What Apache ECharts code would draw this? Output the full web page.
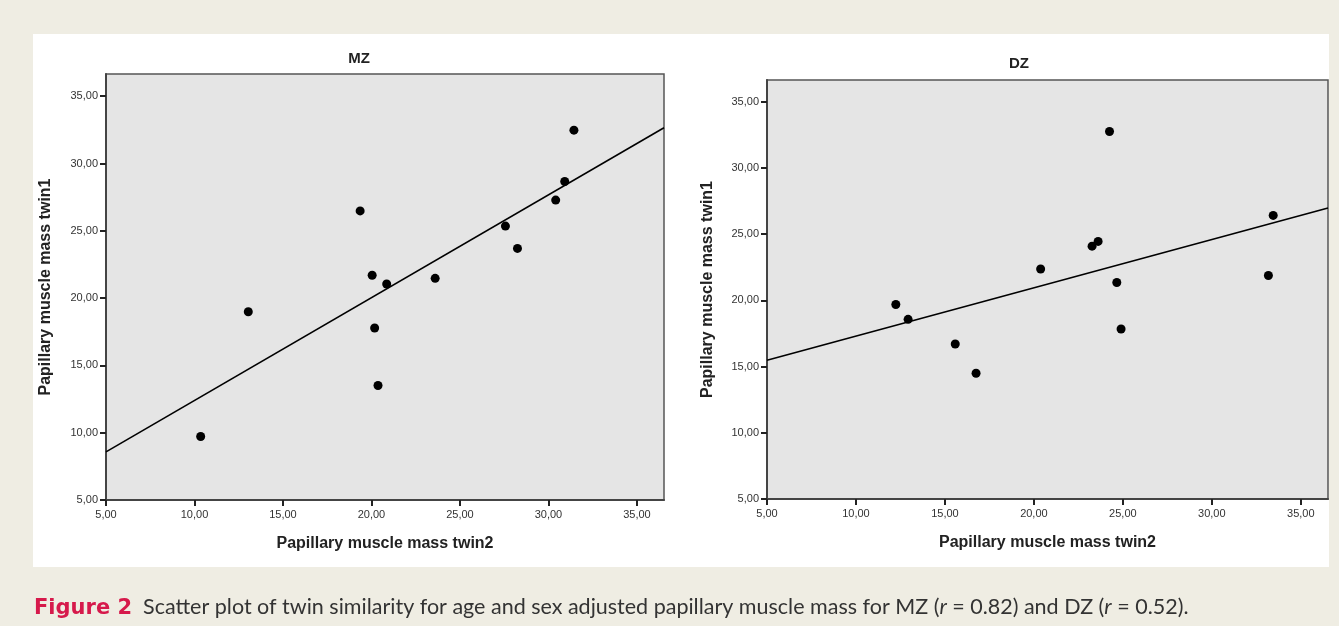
<!DOCTYPE html>
<html>
<head>
<meta charset="utf-8">
<script src="https://cdn.jsdelivr.net/npm/echarts@6/dist/echarts.min.js"></script>
<style>
  html, body { margin: 0; padding: 0; background: #efede3; }
  #chart { width: 1339px; height: 626px; }
</style>
</head>
<body>
<div id="chart"></div>
<script>
// MZ pairs (twin2 on x, twin1 on y)
const mzTwin2 = [10.35, 13.04, 19.36, 20.04, 20.86, 20.18, 20.37, 23.6, 27.57, 28.25, 30.41, 30.92, 31.44];
const mzTwin1 = [9.72, 18.99, 26.48, 21.70, 21.05, 17.78, 13.51, 21.47, 25.35, 23.69, 27.28, 28.66, 32.48];

// DZ pairs
const dzTwin2 = [12.24, 12.93, 15.58, 16.75, 20.38, 23.27, 23.61, 24.25, 24.66, 24.90, 33.18, 33.45];
const dzTwin1 = [19.69, 18.57, 16.71, 14.50, 22.37, 24.10, 24.46, 32.76, 21.35, 17.84, 21.88, 26.42];

const tickValues = [5, 10, 15, 20, 25, 30, 35];
const axisMin = 5;
const xMax = 36.53;
const yMax = 36.65;

const chart = echarts.init(document.getElementById('chart'));

// least squares fit line, spans the whole x range
function fitLine(xs, ys) {
    const n = xs.length;
    const mx = xs.reduce((a, b) => a + b, 0) / n;
    const my = ys.reduce((a, b) => a + b, 0) / n;
    let sxy = 0, sxx = 0;
    for (let i = 0; i < n; i++) {
        sxy += (xs[i] - mx) * (ys[i] - my);
        sxx += (xs[i] - mx) * (xs[i] - mx);
    }
    const b = sxy / sxx;
    const a = my - b * mx;
    return [[axisMin, a + b * axisMin], [xMax, a + b * xMax]];
}

const pairs = (xs, ys) => xs.map((x, i) => [x, ys[i]]);
const fmt = v => v.toFixed(2).replace('.', ',');

const labelStyle = { fontFamily: 'Liberation Sans', fontSize: 11, color: '#333' };
const nameStyle = { fontFamily: 'Liberation Sans', fontSize: 16, fontWeight: 'bold', color: '#222' };

function xAxis(gridIndex) {
    return {
        type: 'value', gridIndex, min: axisMin, max: xMax,
        name: 'Papillary muscle mass twin2', nameLocation: 'middle', nameGap: 36,
        nameTextStyle: nameStyle,
        axisLine: { show: true, lineStyle: { color: '#444', width: 2 } },
        axisTick: { show: true, length: 6, customValues: tickValues, lineStyle: { color: '#222', width: 2 } },
        axisLabel: Object.assign({ margin: 9, customValues: tickValues, formatter: fmt }, labelStyle),
        splitLine: { show: false }
    };
}

function yAxis(gridIndex, gap) {
    return {
        type: 'value', gridIndex, min: axisMin, max: yMax,
        name: 'Papillary muscle mass twin1', nameLocation: 'middle', nameGap: gap,
        nameTextStyle: nameStyle,
        axisLine: { show: true, lineStyle: { color: '#444', width: 2 } },
        axisTick: { show: true, length: 6, customValues: tickValues, lineStyle: { color: '#222', width: 2 } },
        axisLabel: Object.assign({ margin: 8, customValues: tickValues, formatter: fmt }, labelStyle),
        splitLine: { show: false }
    };
}

const gridStyle = { show: true, backgroundColor: '#e5e5e5', borderColor: '#555', borderWidth: 1.5 };

chart.setOption({
    backgroundColor: '#efede3',
    animation: false,
    graphic: [{
        type: 'rect', z: -100, silent: true,
        shape: { x: 33, y: 34, width: 1296, height: 533 },
        style: { fill: '#ffffff' }
    }],
    title: [
        { text: 'MZ', left: 354, top: 46, textAlign: 'center',
          textStyle: { fontFamily: 'Liberation Sans', fontSize: 15, fontWeight: 'bold', color: '#222' } },
        { text: 'DZ', left: 1014, top: 51, textAlign: 'center',
          textStyle: { fontFamily: 'Liberation Sans', fontSize: 15, fontWeight: 'bold', color: '#222' } },
        { text: '{fig|Figure 2}  Scatter plot of twin similarity for age and sex adjusted papillary muscle mass for MZ ({it|r} = 0.82) and DZ ({it|r} = 0.52).',
          left: 34, top: 595, padding: 0,
          textStyle: {
              fontFamily: 'Lato', fontSize: 21.5, fontWeight: 'normal', color: '#333',
              rich: {
                  fig: { fontFamily: 'DejaVu Sans', fontSize: 21, fontWeight: 'bold', color: '#d6194b', padding: [3, 0, 0, 0] },
                  it: { fontFamily: 'Lato', fontSize: 21.5, fontStyle: 'italic', color: '#333' }
              }
          } }
    ],
    grid: [
        Object.assign({ left: 106, top: 74, width: 558, height: 426 }, gridStyle),
        Object.assign({ left: 767, top: 80, width: 561, height: 419 }, gridStyle)
    ],
    xAxis: [xAxis(0), xAxis(1)],
    yAxis: [yAxis(0, 52), yAxis(1, 51)],
    series: [
        { type: 'line', xAxisIndex: 0, yAxisIndex: 0, data: fitLine(mzTwin2, mzTwin1),
          symbol: 'none', lineStyle: { color: '#000', width: 1.6 } },
        { type: 'scatter', xAxisIndex: 0, yAxisIndex: 0, data: pairs(mzTwin2, mzTwin1),
          symbolSize: 9, itemStyle: { color: '#000', opacity: 1 } },
        { type: 'line', xAxisIndex: 1, yAxisIndex: 1, data: fitLine(dzTwin2, dzTwin1),
          symbol: 'none', lineStyle: { color: '#000', width: 1.6 } },
        { type: 'scatter', xAxisIndex: 1, yAxisIndex: 1, data: pairs(dzTwin2, dzTwin1),
          symbolSize: 9, itemStyle: { color: '#000', opacity: 1 } }
    ]
});
</script>
</body>
</html>
